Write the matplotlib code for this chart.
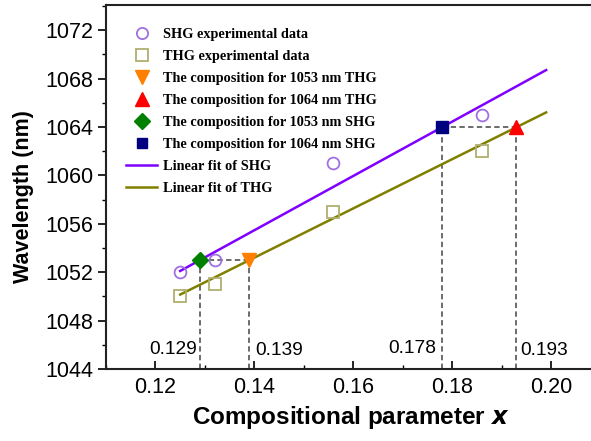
import matplotlib
matplotlib.use("Agg")
import matplotlib.pyplot as plt
import numpy as np

# Data
shg_x = [0.125, 0.132, 0.156, 0.186]
shg_y = [1052, 1053, 1061, 1065]
thg_x = [0.125, 0.132, 0.156, 0.186]
thg_y = [1050, 1051, 1057, 1062]

shg_fit_x = [0.125, 0.199]
shg_fit_y = [1052.1, 1068.7]
thg_fit_x = [0.125, 0.199]
thg_fit_y = [1050.15, 1065.2]

thg1053 = (0.139, 1053)
thg1064 = (0.193, 1064)
shg1053 = (0.129, 1053)
shg1064 = (0.178, 1064)

ymin = 1044
xticks = [0.12, 0.14, 0.16, 0.18, 0.20]
yticks = [1044, 1048, 1052, 1056, 1060, 1064, 1068, 1072]

W, H = 591, 441
fig = plt.figure(figsize=(W / 100, H / 100), dpi=100)
left = 106 / W
bottom = (H - 369) / H
top = (H - 4.7) / H
right = 595.6 / W
ax = fig.add_axes([left, bottom, right - left, top - bottom])
ax.set_xlim(0.1103, 0.209)
ax.set_ylim(1044, 1074.1)

sans = 'Liberation Sans'
serif = 'Liberation Serif'

# dashed guide lines
dcol = '#444444'
dkw = dict(ls=(0, (3.5, 2.2)), color=dcol, lw=1.1, zorder=1)
ax.plot([shg1053[0], shg1053[0]], [ymin, shg1053[1]], **dkw)
ax.plot([thg1053[0], thg1053[0]], [ymin, thg1053[1]], **dkw)
ax.plot([shg1053[0], thg1053[0]], [shg1053[1], thg1053[1]], **dkw)
ax.plot([shg1064[0], shg1064[0]], [ymin, shg1064[1]], **dkw)
ax.plot([thg1064[0], thg1064[0]], [ymin, thg1064[1]], **dkw)
ax.plot([shg1064[0], thg1064[0]], [shg1064[1], thg1064[1]], **dkw)

l1, = ax.plot(shg_x, shg_y, 'o', mfc='none', mec='#a070e0', ms=8.5, mew=1.3, ls='none', zorder=3)
l2, = ax.plot(thg_x, thg_y, 's', mfc='none', mec='#b0b070', ms=8.5, mew=1.3, ls='none', zorder=3)
l7, = ax.plot(shg_fit_x, shg_fit_y, '-', color='#8000ff', lw=1.8, zorder=2)
l8, = ax.plot(thg_fit_x, thg_fit_y, '-', color='#808000', lw=1.8, zorder=2)
l3, = ax.plot([thg1053[0]], [thg1053[1]], 'v', color='#ff8000', ms=10, ls='none', zorder=4)
l4, = ax.plot([thg1064[0]], [thg1064[1]], '^', color='#ff0000', ms=10, ls='none', zorder=4)
l5, = ax.plot([shg1053[0]], [shg1053[1]], 'D', color='#008000', ms=8.5, ls='none', zorder=4)
l6, = ax.plot([shg1064[0]], [shg1064[1]], 's', color='#000080', ms=8, ls='none', zorder=4)

labels = ['SHG experimental data', 'THG experimental data',
          'The composition for 1053 nm THG', 'The composition for 1064 nm THG',
          'The composition for 1053 nm SHG', 'The composition for 1064 nm SHG',
          'Linear fit of SHG', 'Linear fit of THG']
leg = ax.legend([l1, l2, l3, l4, l5, l6, l7, l8], labels, loc='upper left',
                bbox_to_anchor=(126 / W, (H - 27.5) / H), bbox_transform=fig.transFigure,
                frameon=False, prop={'family': serif, 'weight': 'bold', 'size': 10.3},
                handlelength=2.2, handletextpad=0.4, labelspacing=0.63, markerscale=0.95,
                borderpad=0, borderaxespad=0)

# annotations
afs = 13.8
ax.text(shg1053[0] - 0.0007, 1045.6, '0.129', ha='right', va='center', fontsize=afs, family=sans)
ax.text(thg1053[0] + 0.0012, 1045.5, '0.139', ha='left', va='center', fontsize=afs, family=sans)
ax.text(shg1064[0] - 0.0012, 1045.7, '0.178', ha='right', va='center', fontsize=afs, family=sans)
ax.text(thg1064[0] + 0.0007, 1045.5, '0.193', ha='left', va='center', fontsize=afs, family=sans)

tfs = 15.5
ax.set_xticks(xticks)
ax.set_xticklabels(['%.2f' % v for v in xticks], fontsize=tfs, family=sans)
ax.set_yticks(yticks)
ax.set_yticklabels([str(v) for v in yticks], fontsize=tfs, family=sans)
ax.set_xticks(np.arange(0.11, 0.2091, 0.01), minor=True)
ax.set_yticks(np.arange(1044, 1074.1, 2), minor=True)
ax.tick_params(axis='x', which='both', direction='in', top=False)
ax.tick_params(axis='x', which='major', length=6, width=1.2, pad=6)
ax.tick_params(axis='x', which='minor', length=3, width=1)
ax.tick_params(axis='y', which='both', direction='out', right=False)
ax.tick_params(axis='y', which='major', length=6, width=1.2, pad=3)
ax.tick_params(axis='y', which='minor', length=3, width=1)
for s in ax.spines.values():
    s.set_linewidth(1.5)
    s.set_color('#222222')

ax.set_xlabel('Compositional parameter $\\boldsymbol{x}$', fontsize=17.5, fontweight='bold', family=sans, labelpad=4)
ax.set_ylabel('Wavelength (nm)', fontsize=15.5, fontweight='bold', family=sans)
ax.yaxis.set_label_coords(-0.147, 0.472)

fig.savefig('out.png', dpi=100)
